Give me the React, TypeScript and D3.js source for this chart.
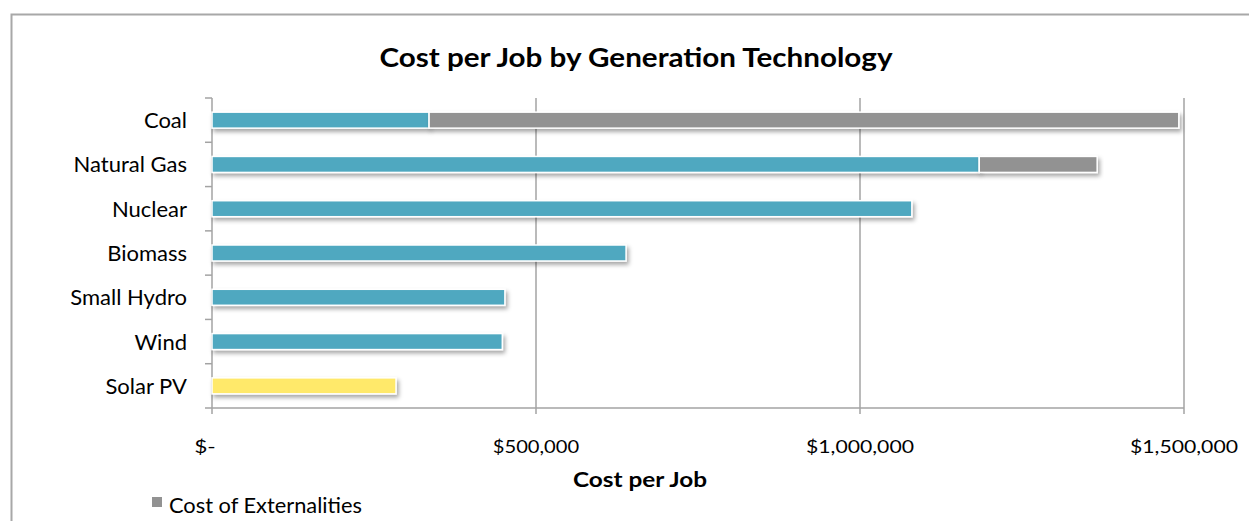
import React from "react";
import * as d3 from "d3";

const categories = ["Coal", "Natural Gas", "Nuclear", "Biomass", "Small Hydro", "Wind", "Solar PV"];
const baseCost = [335000, 1184000, 1080000, 639000, 452000, 448000, 284000];
const externalityCost = [1157000, 182000, 0, 0, 0, 0, 0];
const baseColors = ["#4fa8c0", "#4fa8c0", "#4fa8c0", "#4fa8c0", "#4fa8c0", "#4fa8c0", "#ffe96a"];
const xTicks = [0, 500000, 1000000, 1500000];
const xTickLabels = ["$-", "$500,000", "$1,000,000", "$1,500,000"];

const W = 1249;
const H = 521;
const FONT = "Lato, 'Open Sans', sans-serif";

export default function App() {
  const left = 212, right = 1184, top = 98, bottom = 408;
  const x = d3.scaleLinear().domain([0, 1500000]).range([left, right]);
  const y = d3.scaleBand().domain(categories).range([top, bottom]).paddingInner(0).paddingOuter(0);
  const barH = 16;
  const grid = "#a3a3a3";
  const boundaries = d3.range(categories.length + 1).map((i) => top + i * y.step());

  return (
    <svg width={W} height={H} style={{ position: "fixed", left: 0, top: 0, background: "#fff" }}>
      <defs>
        <filter id="shadow" x="-5%" y="-50%" width="110%" height="250%">
          <feDropShadow dx="2" dy="3" stdDeviation="2" floodColor="#000" floodOpacity="0.35" />
        </filter>
      </defs>
      <rect x={0} y={0} width={W} height={H} fill="#fff" />
      <rect x={11.5} y={14.5} width={1260} height={540} fill="#fff" stroke="#a8a8a8" strokeWidth={2} />
      <text x={636} y={67} textAnchor="middle" fontFamily={FONT} fontWeight="bold" fontSize={26} fill="#000" textLength={513} lengthAdjust="spacingAndGlyphs">
        Cost per Job by Generation Technology
      </text>
      {xTicks.slice(1).map((t) => (
        <line key={t} x1={x(t)} x2={x(t)} y1={top} y2={bottom + 6} stroke={grid} strokeWidth={1.5} />
      ))}
      <line x1={left} x2={right} y1={bottom} y2={bottom} stroke={grid} strokeWidth={1.5} />
      <line x1={left} x2={left} y1={top} y2={bottom + 6} stroke={grid} strokeWidth={1.5} />
      {boundaries.map((b, i) => (
        <line key={i} x1={left - 7} x2={left} y1={b} y2={b} stroke={grid} strokeWidth={1.5} />
      ))}
      {categories.map((c, i) => {
        const yc = (y(c) as number) + y.bandwidth() / 2;
        const y0 = yc - barH / 2;
        return (
          <g key={c}>
            <rect x={x(0)} y={y0} width={x(baseCost[i]) - x(0)} height={barH} fill={baseColors[i]} stroke="#fff" strokeWidth={1.5} filter="url(#shadow)" />
            {externalityCost[i] > 0 && (
              <rect x={x(baseCost[i])} y={y0} width={x(baseCost[i] + externalityCost[i]) - x(baseCost[i])} height={barH} fill="#929292" stroke="#fff" strokeWidth={1.5} filter="url(#shadow)" />
            )}
          </g>
        );
      })}
      {categories.map((c) => (
        <text key={c} x={187} y={(y(c) as number) + y.bandwidth() / 2 + 8} textAnchor="end" fontFamily={FONT} fontSize={22} fill="#000">
          {c}
        </text>
      ))}
      {xTicks.map((t, i) => (
        <text key={t} x={i === 0 ? x(t) - 7 : x(t)} y={453} textAnchor="middle" fontFamily={FONT} fontSize={17} fill="#000"
          textLength={xTickLabels[i].length * 10.8} lengthAdjust="spacingAndGlyphs">
          {xTickLabels[i]}
        </text>
      ))}
      <text x={640} y={487} textAnchor="middle" fontFamily={FONT} fontWeight="bold" fontSize={21} fill="#000" textLength={134} lengthAdjust="spacingAndGlyphs">
        Cost per Job
      </text>
      <rect x={152} y={497} width={10} height={10} fill="#929292" />
      <text x={169} y={513} fontFamily={FONT} fontSize={21} fill="#000" textLength={193} lengthAdjust="spacingAndGlyphs">
        Cost of Externalities
      </text>
    </svg>
  );
}
